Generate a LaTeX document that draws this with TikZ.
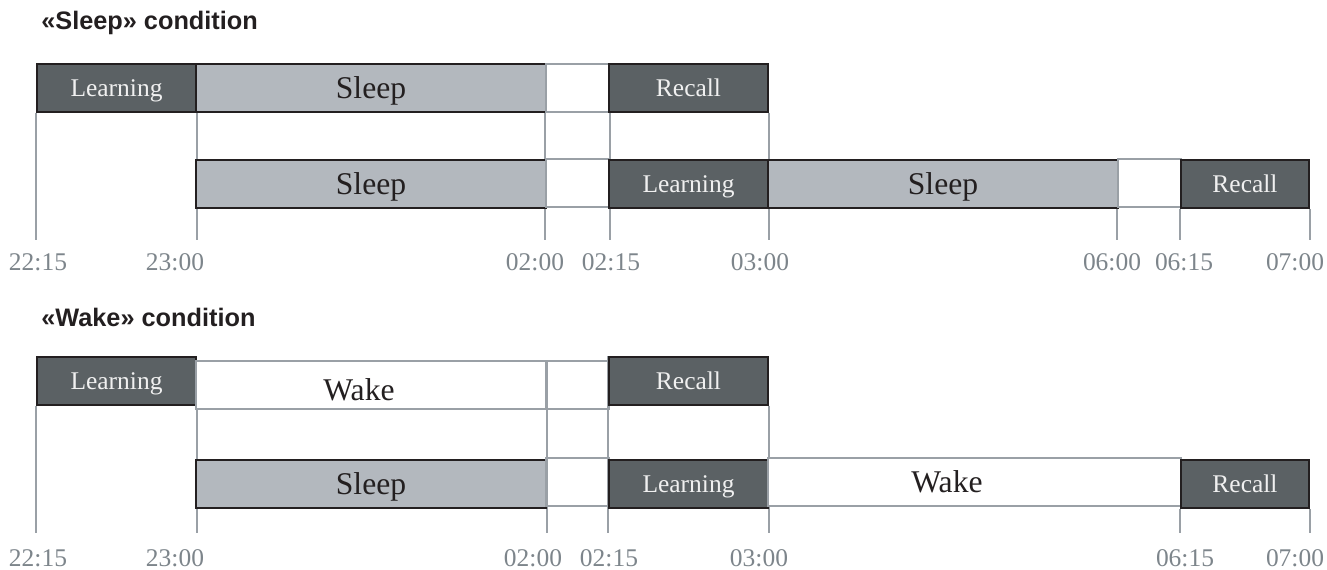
\documentclass[tikz,border=0pt]{standalone}
\usepackage{fontspec}
\setmainfont{Liberation Serif}
\newfontfamily\headfont{Liberation Sans}
\usetikzlibrary{fit,backgrounds}
\definecolor{boxdark}{HTML}{5B6164}
\definecolor{boxlight}{HTML}{B3B8BE}
\definecolor{rulegray}{HTML}{9AA0A6}
\definecolor{timegray}{HTML}{7D858B}
\definecolor{ink}{HTML}{231F20}

\begin{document}
\begin{tikzpicture}[x=0.02cm, y=-0.02cm,
    every node/.style={inner sep=0pt},
    headline/.style={anchor=base west, font=\headfont\bfseries\fontsize{14.4}{17}\selectfont, text=ink},
    taskbox/.style={draw=ink, line width=1.1pt, fill=boxdark},
    sleepbox/.style={draw=ink, line width=1.1pt, fill=boxlight},
    wakebox/.style={draw=rulegray, line width=1pt, fill=white},
    gapcell/.style={draw=rulegray, line width=1pt},
    tasktext/.style={text depth=0pt, text=white!94!black, font=\fontsize{14.5}{17}\selectfont},
    phasetext/.style={text depth=0pt, text=ink, font=\fontsize{18}{21}\selectfont},
    tickline/.style={draw=rulegray, line width=1pt},
    timelabel/.style={anchor=base, text=timegray, font=\fontsize{14.5}{17}\selectfont}
]
\useasboundingbox (0,0) rectangle (1327,570);

% «Sleep» condition
\node[headline] (shead) at (41,30) {«Sleep» condition};

\node[taskbox, fit={(37,64) (196,112)}, label={[tasktext]center:Learning}] (slearnA) {};
\node[sleepbox, fit={(196,64) (546,112)}, label={[phasetext]center:Sleep}] (ssleepA) {};
\node[gapcell, fit={(546,64) (609,112)}] (sgapA) {};
\node[taskbox, fit={(609,64) (768,112)}, label={[tasktext]center:Recall}] (srecallA) {};

\node[sleepbox, fit={(196,160) (546,208)}, label={[phasetext]center:Sleep}] (ssleepB1) {};
\node[gapcell, fit={(546,159) (609,207)}] (sgapB1) {};
\node[taskbox, fit={(609,160) (768,208)}, label={[tasktext]center:Learning}] (slearnB) {};
\node[sleepbox, fit={(768,160) (1118,208)}, label={[phasetext]center:Sleep}] (ssleepB2) {};
\node[gapcell, fit={(1118,159) (1181,207)}] (sgapB2) {};
\node[taskbox, fit={(1181,160) (1309,208)}, label={[tasktext]center:Recall}] (srecallB) {};

\coordinate (sbase) at (0,240);
\begin{scope}[on background layer]
\draw[tickline] (slearnA.south west) -- (slearnA.south west |- sbase);
\draw[tickline] (slearnA.south east) -- (slearnA.south east |- sbase);
\draw[tickline] (sgapA.north west) -- (sgapA.north west |- sbase);
\draw[tickline] (sgapA.north east) -- (sgapA.north east |- sbase);
\draw[tickline] (srecallA.south east) -- (srecallA.south east |- sbase);
\draw[tickline] (sgapB2.south west) -- (sgapB2.south west |- sbase);
\draw[tickline] (srecallB.south west) -- (srecallB.south west |- sbase);
\draw[tickline] (srecallB.south east) -- (srecallB.south east |- sbase);
\end{scope}

\node[timelabel] (st1) at (38,271) {22:15};
\node[timelabel] (st2) at (175,271) {23:00};
\node[timelabel] (st3) at (535,271) {02:00};
\node[timelabel] (st4) at (611,271) {02:15};
\node[timelabel] (st5) at (760,271) {03:00};
\node[timelabel] (st6) at (1112,271) {06:00};
\node[timelabel] (st7) at (1184,271) {06:15};
\node[timelabel] (st8) at (1295,271) {07:00};

% «Wake» condition
\node[headline] (whead) at (41,327) {«Wake» condition};

\node[taskbox, fit={(37,357) (196,405)}, label={[tasktext]center:Learning}] (wlearnA) {};
\node[wakebox, fit={(196,361) (546,409)}, label={[phasetext, xshift=-0.24cm, yshift=-0.1cm]center:Wake}] (wwakeA) {};
\node[gapcell, fit={(546,361) (609,409)}] (wgapA) {};
\node[taskbox, fit={(609,357) (768,405)}, label={[tasktext]center:Recall}] (wrecallA) {};

\node[sleepbox, fit={(196,460) (546,508)}, label={[phasetext]center:Sleep}] (wsleepB) {};
\node[gapcell, fit={(546,458) (609,506)}] (wgapB) {};
\node[taskbox, fit={(609,460) (768,508)}, label={[tasktext]center:Learning}] (wlearnB) {};
\node[wakebox, fit={(768,458) (1181,506)}, label={[phasetext, xshift=-0.55cm]center:Wake}] (wwakeB) {};
\node[taskbox, fit={(1181,460) (1309,508)}, label={[tasktext]center:Recall}] (wrecallB) {};

\coordinate (wbase) at (0,533);
\begin{scope}[on background layer]
\draw[tickline] (wlearnA.south west) -- (wlearnA.south west |- wbase);
\draw[tickline] (wlearnA.south east) -- (wlearnA.south east |- wbase);
\draw[tickline] (wwakeA.north east) -- (wwakeA.north east |- wbase);
\draw[tickline] (wrecallA.north west) -- (wrecallA.north west |- wbase);
\draw[tickline] (wrecallA.south east) -- (wrecallA.south east |- wbase);
\draw[tickline] (wrecallB.south west) -- (wrecallB.south west |- wbase);
\draw[tickline] (wrecallB.south east) -- (wrecallB.south east |- wbase);
\end{scope}

\node[timelabel] (wt1) at (38,566) {22:15};
\node[timelabel] (wt2) at (175,566) {23:00};
\node[timelabel] (wt3) at (533,566) {02:00};
\node[timelabel] (wt4) at (609,566) {02:15};
\node[timelabel] (wt5) at (759,566) {03:00};
\node[timelabel] (wt6) at (1185,566) {06:15};
\node[timelabel] (wt7) at (1295,566) {07:00};
\end{tikzpicture}
\end{document}
